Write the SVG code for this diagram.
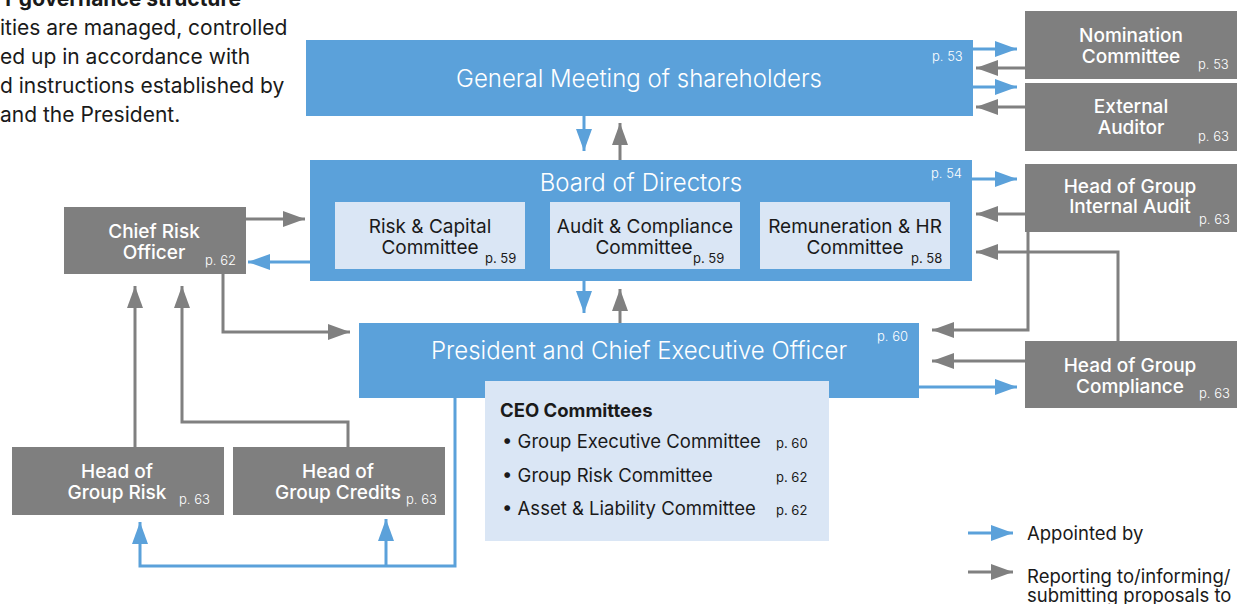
<svg xmlns="http://www.w3.org/2000/svg" width="1237" height="604" viewBox="0 0 1237 604">
  <style>
    text { font-family: Inter, Roboto, "Liberation Sans", sans-serif; }
    .blue { fill: #5ba1da; }
    .grey { fill: #7f7f7f; }
    .pale { fill: #dae6f5; }
    .main { fill: #ffffff; font-size: 24px; font-weight: 300; text-anchor: middle; }
    .gl { fill: #ffffff; font-size: 19px; font-weight: 500; text-anchor: middle; }
    .cl { fill: #1a1a1a; font-size: 19px; text-anchor: middle; }
    .pw { fill: #ffffff; font-size: 13px; font-weight: 300; }
    .pd { fill: #1a1a1a; font-size: 13px; }
    .body { fill: #1a1a1a; font-size: 21px; }
    .li { fill: #1a1a1a; font-size: 18.5px; }
    .cb { stroke: #5ba1da; stroke-width: 3; fill: none; }
    .cg { stroke: #808080; stroke-width: 3; fill: none; }
  </style>
  <defs>
    <marker id="ahBlue" markerUnits="userSpaceOnUse" markerWidth="22" markerHeight="16" refX="22" refY="8" orient="auto">
      <path d="M0,0 L22,8 L0,16 z" fill="#5ba1da"/>
    </marker>
    <marker id="ahGrey" markerUnits="userSpaceOnUse" markerWidth="22" markerHeight="16" refX="22" refY="8" orient="auto">
      <path d="M0,0 L22,8 L0,16 z" fill="#808080"/>
    </marker>
  </defs>

  <!-- intro paragraph, running off the left edge -->
  <g id="intro">
    <text class="body" x="241" y="6" text-anchor="end" font-weight="700">r governance structure</text>
    <text class="body" x="0" y="35">ities are managed, controlled</text>
    <text class="body" x="0" y="64">ed up in accordance with</text>
    <text class="body" x="0" y="93">d instructions established by</text>
    <text class="body" x="0" y="122">and the President.</text>
  </g>

  <!-- connectors -->
  <g id="connectors">
    <!-- appointed by -->
    <path class="cb" d="M973,49 H1017" marker-end="url(#ahBlue)"/>
    <path class="cb" d="M973,87 H1017" marker-end="url(#ahBlue)"/>
    <path class="cb" d="M584,116 V151" marker-end="url(#ahBlue)"/>
    <path class="cb" d="M972,179 H1017" marker-end="url(#ahBlue)"/>
    <path class="cb" d="M310,262 H248" marker-end="url(#ahBlue)"/>
    <path class="cb" d="M584,281 V313" marker-end="url(#ahBlue)"/>
    <path class="cb" d="M919,387 H1017" marker-end="url(#ahBlue)"/>
    <path class="cb" d="M455,398 V566 H140 V522" marker-end="url(#ahBlue)"/>
    <path class="cb" d="M386,566 V519" marker-end="url(#ahBlue)"/>
    <!-- reporting to / informing / submitting proposals to -->
    <path class="cg" d="M1025,68 H976" marker-end="url(#ahGrey)"/>
    <path class="cg" d="M1025,107 H976" marker-end="url(#ahGrey)"/>
    <path class="cg" d="M620,160 V123" marker-end="url(#ahGrey)"/>
    <path class="cg" d="M1025,214 H976" marker-end="url(#ahGrey)"/>
    <path class="cg" d="M1028,232 V330 H932" marker-end="url(#ahGrey)"/>
    <path class="cg" d="M1118,341 V252 H976" marker-end="url(#ahGrey)"/>
    <path class="cg" d="M1025,361 H932" marker-end="url(#ahGrey)"/>
    <path class="cg" d="M246,219 H305" marker-end="url(#ahGrey)"/>
    <path class="cg" d="M223,274 V332 H350" marker-end="url(#ahGrey)"/>
    <path class="cg" d="M620,323 V289" marker-end="url(#ahGrey)"/>
    <path class="cg" d="M135,447 V286" marker-end="url(#ahGrey)"/>
    <path class="cg" d="M348,447 V422 H182 V286" marker-end="url(#ahGrey)"/>
  </g>

  <g id="general-meeting">
    <rect class="blue" x="306" y="40" width="667" height="76"/>
    <text class="main" x="639" y="87">General Meeting of shareholders</text>
    <text class="pw" x="932" y="61">p. 53</text>
  </g>

  <g id="nomination-committee">
    <rect class="grey" x="1025" y="11" width="212" height="68"/>
    <text class="gl" x="1131" y="42">Nomination</text>
    <text class="gl" x="1131" y="63">Committee</text>
    <text class="pw" x="1198" y="69">p. 53</text>
  </g>

  <g id="external-auditor">
    <rect class="grey" x="1025" y="83" width="212" height="68"/>
    <text class="gl" x="1131" y="113">External</text>
    <text class="gl" x="1131" y="134">Auditor</text>
    <text class="pw" x="1198" y="141">p. 63</text>
  </g>

  <g id="board">
    <rect class="blue" x="310" y="160" width="662" height="121"/>
    <text class="main" x="641" y="191">Board of Directors</text>
    <text class="pw" x="931" y="178">p. 54</text>
  </g>

  <g id="risk-capital-committee">
    <rect class="pale" x="335" y="202" width="190" height="67"/>
    <text class="cl" x="430" y="233">Risk &amp; Capital</text>
    <text class="cl" x="430" y="254">Committee</text>
    <text class="pd" x="485" y="263">p. 59</text>
  </g>

  <g id="audit-compliance-committee">
    <rect class="pale" x="550" y="202" width="190" height="67"/>
    <text class="cl" x="645" y="233">Audit &amp; Compliance</text>
    <text class="cl" x="644" y="254">Committee</text>
    <text class="pd" x="693" y="263">p. 59</text>
  </g>

  <g id="remuneration-hr-committee">
    <rect class="pale" x="760" y="202" width="190" height="67"/>
    <text class="cl" x="855" y="233">Remuneration &amp; HR</text>
    <text class="cl" x="855" y="254">Committee</text>
    <text class="pd" x="911" y="263">p. 58</text>
  </g>

  <g id="head-group-internal-audit">
    <rect class="grey" x="1025" y="164" width="212" height="68"/>
    <text class="gl" x="1130" y="193">Head of Group</text>
    <text class="gl" x="1130" y="213">Internal Audit</text>
    <text class="pw" x="1199" y="224">p. 63</text>
  </g>

  <g id="chief-risk-officer">
    <rect class="grey" x="64" y="207" width="182" height="67"/>
    <text class="gl" x="154" y="238">Chief Risk</text>
    <text class="gl" x="154" y="259">Officer</text>
    <text class="pw" x="205" y="265">p. 62</text>
  </g>

  <g id="ceo">
    <rect class="blue" x="359" y="323" width="560" height="75"/>
    <text class="main" x="639" y="359">President and Chief Executive Officer</text>
    <text class="pw" x="877" y="341">p. 60</text>
  </g>

  <g id="ceo-committees">
    <rect class="pale" x="485" y="381" width="344" height="160"/>
    <text class="li" x="500" y="417" font-size="20.5px" font-weight="700">CEO Committees</text>
    <text class="li" x="502" y="448">• Group Executive Committee</text>
    <text class="pd" x="776" y="448">p. 60</text>
    <text class="li" x="502" y="482">• Group Risk Committee</text>
    <text class="pd" x="776" y="482">p. 62</text>
    <text class="li" x="502" y="515">• Asset &amp; Liability Committee</text>
    <text class="pd" x="776" y="515">p. 62</text>
  </g>

  <g id="head-group-compliance">
    <rect class="grey" x="1025" y="341" width="212" height="67"/>
    <text class="gl" x="1130" y="372">Head of Group</text>
    <text class="gl" x="1130" y="393">Compliance</text>
    <text class="pw" x="1199" y="398">p. 63</text>
  </g>

  <g id="head-group-risk">
    <rect class="grey" x="12" y="447" width="212" height="68"/>
    <text class="gl" x="117" y="478">Head of</text>
    <text class="gl" x="117" y="499">Group Risk</text>
    <text class="pw" x="179" y="504">p. 63</text>
  </g>

  <g id="head-group-credits">
    <rect class="grey" x="233" y="447" width="212" height="68"/>
    <text class="gl" x="338" y="478">Head of</text>
    <text class="gl" x="338" y="499">Group Credits</text>
    <text class="pw" x="406" y="504">p. 63</text>
  </g>

  <g id="legend">
    <path class="cb" d="M968,533 H1013" marker-end="url(#ahBlue)"/>
    <text class="li" x="1027" y="540">Appointed by</text>
    <path class="cg" d="M968,572 H1013" marker-end="url(#ahGrey)"/>
    <text class="li" x="1027" y="583">Reporting to/informing/</text>
    <text class="li" x="1027" y="602">submitting proposals to</text>
  </g>
</svg>
